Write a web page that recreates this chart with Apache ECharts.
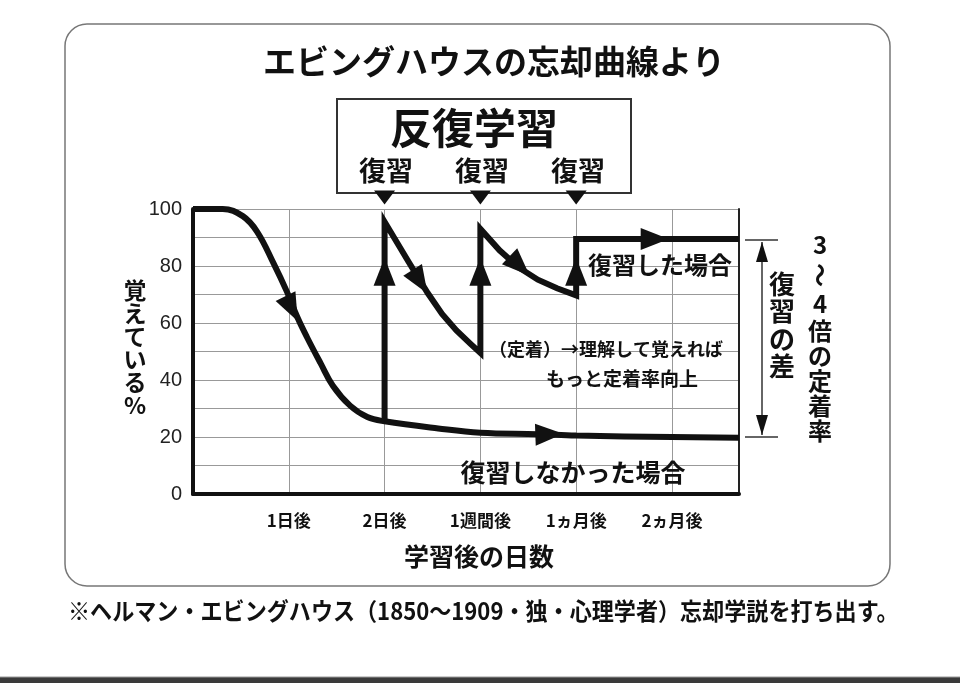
<!DOCTYPE html>
<html><head><meta charset="utf-8">
<script src="https://cdn.jsdelivr.net/npm/echarts@6/dist/echarts.min.js"></script>
<style>html,body{margin:0;padding:0;background:#fff}#c{width:960px;height:683px}</style>
</head><body><div id="c"></div><script>
// ---- data ----
const xTickLabels = ['1日後', '2日後', '1週間後', '1ヵ月後', '2ヵ月後'];
const yLabelStep = 20;
const noReviewCurve = [[0,100],[0.31,100],[0.52,97.5],[0.67,92],[0.84,81],[0.98,71],[1.09,62],[1.19,55],[1.33,46],[1.46,38],[1.64,31],[1.82,27],[2.0,25.5],[2.56,23],[3.0,21.5],[3.6,21],[4.0,20.5],[5.0,20],[5.7,19.7]];
const reviewCurve = [[2,25.5],[2,95.5],[2.25,81.5],[2.45,70.5],[2.6,63.2],[2.75,57.4],[2.9,52.6],[3,49.5],[3,93],[3.2,85.5],[3.4,79.5],[3.6,75.2],[3.8,72.2],[4,69.7],[4,89.5],[5.7,89.5]];
const arrowPoints = [[1.03,65],[2.37,74.5],[3.41,80],[2,78],[3,78],[4,78],[4.82,89.5],[3.72,21]];
const arrowAngles = [206, 212, 226, 0, 0, 0, -90, -88];
const reviewDays = [2, 3, 4];
const reviewMarkerLevel = 104;

const CJK = '"Noto Sans CJK JP", sans-serif';
const INK = '#111';

function txt(text, x, y, size, extra) {
  return Object.assign({
    type: 'text', x: x, y: y, z: 10,
    style: { text: text, font: 'bold ' + size + 'px ' + CJK, fill: INK, align: 'center', verticalAlign: 'middle' }
  }, extra || {});
}
function vtext(chars, x, ys, size) {
  return chars.map((c, i) => {
    const t = txt(c, x, ys[i], size);
    if (c === '〜') t.rotation = Math.PI / 2;
    return t;
  });
}

const chart = echarts.init(document.getElementById('c'), null, { renderer: 'canvas' });
const graphics = [
  { type: 'rect', z: -1, shape: { x: 65, y: 24, width: 825, height: 562, r: 22 }, style: { fill: 'none', stroke: '#777', lineWidth: 1.5 } },
  { type: 'rect', z: 5, shape: { x: 337, y: 99, width: 294, height: 94 }, style: { fill: 'none', stroke: '#333', lineWidth: 2 } },
  { type: 'rect', z: 5, shape: { x: 0, y: 677, width: 960, height: 6 }, style: { fill: '#3a3a3a' } },
  { type: 'line', z: 5, shape: { x1: 0, y1: 677, x2: 960, y2: 677 }, style: { stroke: '#999', lineWidth: 1 } },
  txt('エビングハウスの忘却曲線より', 494, 61, 33),
  txt('反復学習', 474, 128, 42),
  txt('復習', 386, 171, 27),
  txt('復習', 482, 171, 27),
  txt('復習', 578, 171, 27),
  txt('復習した場合', 660, 265, 24),
  txt('（定着）→理解して覚えれば', 606, 349, 18),
  txt('もっと定着率向上', 622, 379, 19),
  txt('復習しなかった場合', 573, 472, 25),
  txt('学習後の日数', 479, 556, 25),
  { type: 'text', x: 68, y: 611, scaleX: 0.92, z: 10,
    style: { text: '※ヘルマン・エビングハウス（1850〜1909・独・心理学者）忘却学説を打ち出す。', font: 'bold 24px ' + CJK, fill: INK, align: 'left', verticalAlign: 'middle' } },
  // bracket
  { type: 'line', z: 5, shape: { x1: 762, y1: 242, x2: 762, y2: 435 }, style: { stroke: '#333', lineWidth: 1.5 } },
  { type: 'line', z: 5, shape: { x1: 745, y1: 240, x2: 778, y2: 240 }, style: { stroke: '#333', lineWidth: 1.5 } },
  { type: 'line', z: 5, shape: { x1: 745, y1: 437, x2: 778, y2: 437 }, style: { stroke: '#333', lineWidth: 1.5 } },
  { type: 'polygon', z: 5, shape: { points: [[762, 242], [756, 262], [768, 262]] }, style: { fill: INK } },
  { type: 'polygon', z: 5, shape: { points: [[762, 435], [756, 415], [768, 415]] }, style: { fill: INK } }
].concat(
  vtext(['覚', 'え', 'て', 'い', 'る', '%'], 135, [290, 313, 336, 359, 382, 405], 23),
  vtext(['復', '習', 'の', '差'], 782, [284, 311, 339, 366], 26),
  vtext(['3', '〜', '4', '倍', 'の', '定', '着', '率'], 820, [245, 275, 304, 331, 356, 381, 406, 431], 24)
);

const option = {
  backgroundColor: '#fff',
  animation: false,
  grid: { left: 193, top: 209, width: 546, height: 285 },
  xAxis: {
    type: 'value', min: 0, max: 5.7, interval: 1,
    axisLine: { show: true, onZero: false, lineStyle: { color: INK, width: 4 } },
    axisTick: { show: false },
    splitLine: { show: true, lineStyle: { color: '#999', width: 1 } },
    axisLabel: {
      margin: 18, color: INK, fontSize: 17, fontWeight: 'bold', fontFamily: CJK,
      showMaxLabel: false,
      formatter: v => (Number.isInteger(v) && v >= 1 && v <= xTickLabels.length) ? xTickLabels[v - 1] : ''
    }
  },
  yAxis: [{
    type: 'value', min: 0, max: 100, interval: 10,
    axisLine: { show: true, lineStyle: { color: INK, width: 4 } },
    axisTick: { show: false },
    splitLine: { show: true, lineStyle: { color: '#999', width: 1 } },
    axisLabel: { margin: 11, color: '#222', fontSize: 20, fontFamily: '"Liberation Sans", Arial, sans-serif',
      formatter: v => (v % yLabelStep === 0 ? String(v) : '') }
  }, {
    type: 'value', min: 0, max: 100, position: 'right',
    axisLine: { show: true, lineStyle: { color: '#222', width: 2 } },
    axisTick: { show: false }, axisLabel: { show: false }, splitLine: { show: false }
  }],
  graphic: graphics,
  series: [
    { type: 'line', data: noReviewCurve, smooth: 0.4, symbol: 'none',
      lineStyle: { color: INK, width: 6 }, z: 3 },
    { type: 'line', data: reviewCurve, symbol: 'none',
      lineStyle: { color: INK, width: 6, join: 'miter' }, z: 4 },
    { type: 'scatter', symbol: 'triangle', symbolSize: [22, 28], clip: false, z: 6,
      itemStyle: { color: INK, opacity: 1 },
      data: arrowPoints.map((p, i) => ({ value: p, symbolRotate: arrowAngles[i] })) },
    { type: 'scatter', symbol: 'triangle', symbolSize: [21, 14], symbolRotate: 180, clip: false, z: 6,
      itemStyle: { color: INK, opacity: 1 },
      data: reviewDays.map(d => [d, reviewMarkerLevel]) }
  ]
};
chart.setOption(option);
</script></body></html>
